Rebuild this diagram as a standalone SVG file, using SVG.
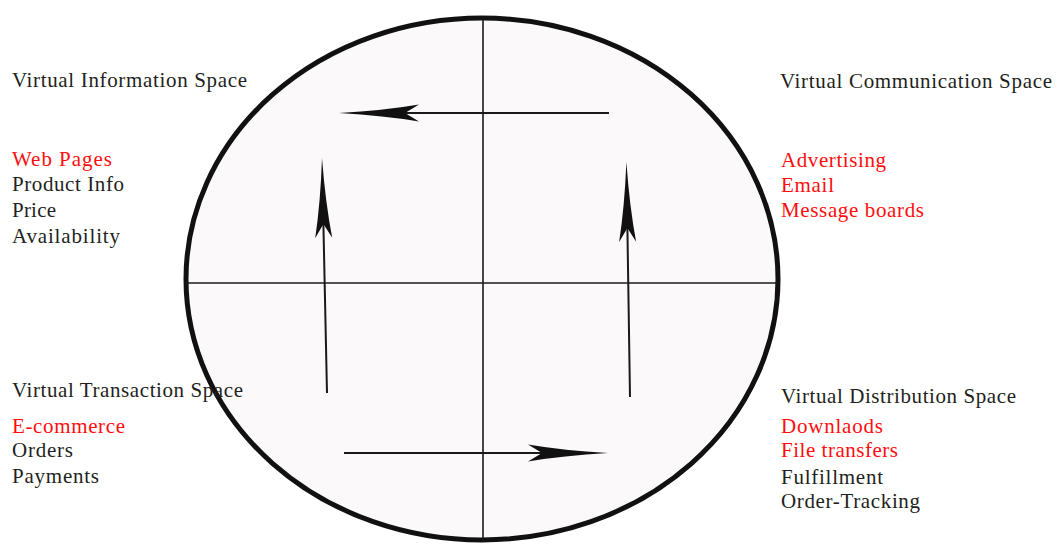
<svg xmlns="http://www.w3.org/2000/svg" width="1061" height="544" viewBox="0 0 1061 544">
<style>
text{font-family:"Liberation Serif","Times New Roman",serif;font-size:21px;fill:#231f20}
.r{fill:#ff0d0d}
.ax{stroke:#1a1a1a;stroke-width:1.6;fill:none}
.ar{stroke:#1a1a1a;stroke-width:2;fill:none;marker-end:url(#head)}
</style>
<defs>
<marker id="head" markerUnits="userSpaceOnUse" viewBox="0 0 80 18" markerWidth="80" markerHeight="18" refX="14" refY="9" orient="auto">
<path d="M80,9 Q35,6.5 0,0.5 L14,9 L0,17.5 Q35,11.5 80,9 Z" fill="#111"/>
</marker>
</defs>
<rect width="1061" height="544" fill="#fff"/>
<g id="circle">
<ellipse cx="482" cy="279" rx="296" ry="261" fill="#fcf9fa" stroke="#111" stroke-width="5"/>
<line class="ax" x1="483" y1="18" x2="483" y2="540"/>
<line class="ax" x1="186" y1="283" x2="778" y2="283"/>
</g>
<g id="connectors">
<line class="ar" x1="609" y1="113" x2="405" y2="113"/>
<line class="ar" x1="344" y1="453" x2="542" y2="453"/>
<line class="ar" x1="327" y1="393" x2="323.4" y2="224"/>
<line class="ar" x1="630" y1="397" x2="627.4" y2="228"/>
</g>
<g id="info">
<text x="12" y="87" textLength="235" lengthAdjust="spacing">Virtual Information Space</text>
<text class="r" x="12" y="166" textLength="100" lengthAdjust="spacing">Web Pages</text>
<text x="12" y="191" textLength="112" lengthAdjust="spacing">Product Info</text>
<text x="12" y="217" textLength="44" lengthAdjust="spacing">Price</text>
<text x="12" y="243" textLength="108" lengthAdjust="spacing">Availability</text>
</g>
<g id="communication">
<text x="780" y="88" textLength="272" lengthAdjust="spacing">Virtual Communication Space</text>
<text class="r" x="781" y="167" textLength="105" lengthAdjust="spacing">Advertising</text>
<text class="r" x="781" y="192" textLength="53" lengthAdjust="spacing">Email</text>
<text class="r" x="781" y="217" textLength="143" lengthAdjust="spacing">Message boards</text>
</g>
<g id="transaction">
<text x="12" y="397" textLength="231" lengthAdjust="spacing">Virtual Transaction Space</text>
<text class="r" x="12" y="433" textLength="113" lengthAdjust="spacing">E-commerce</text>
<text x="12" y="457" textLength="61" lengthAdjust="spacing">Orders</text>
<text x="12" y="483" textLength="87" lengthAdjust="spacing">Payments</text>
</g>
<g id="distribution">
<text x="781" y="403" textLength="235" lengthAdjust="spacing">Virtual Distribution Space</text>
<text class="r" x="781" y="433" textLength="102" lengthAdjust="spacing">Downlaods</text>
<text class="r" x="781" y="457" textLength="117" lengthAdjust="spacing">File transfers</text>
<text x="781" y="484" textLength="102" lengthAdjust="spacing">Fulfillment</text>
<text x="781" y="508" textLength="139" lengthAdjust="spacing">Order-Tracking</text>
</g>
</svg>
